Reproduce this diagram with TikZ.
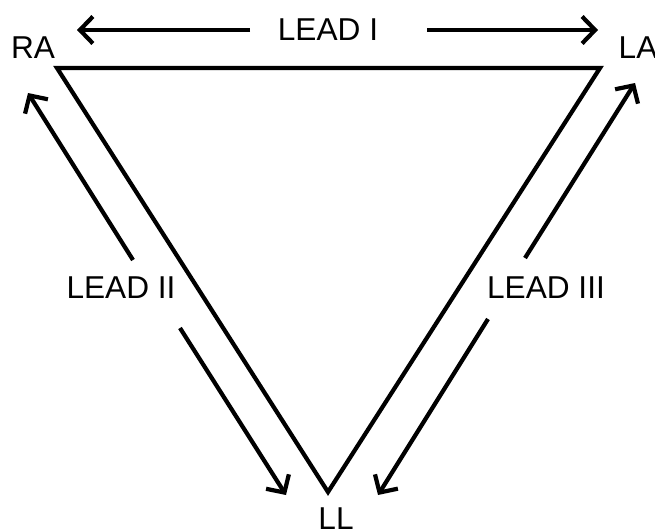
\documentclass[tikz,border=0pt]{standalone}
\usepackage{fontspec}
\setmainfont{Liberation Sans}
\usetikzlibrary{arrows.meta}
\tikzset{
  side/.style={line width=2.4pt, line join=miter},
  leadarr/.style={-{Straight Barb[length=2.6mm, width=5.4mm, line width=2.4pt]}, line width=2.4pt},
  lab/.style={font=\fontsize{18}{20}\selectfont, inner sep=0pt},
}

\begin{document}
\begin{tikzpicture}[x=0.02cm,y=-0.02cm]
\useasboundingbox (0,0) rectangle (655,531);

% ===================== electrodes and triangle ==============================
\node[lab] (RA) at (33,48)  {RA};
\node[lab] (LA) at (638,48) {LA};
\node[lab] (LL) at (336,519) {LL};
\coordinate (vRA) at (57,68);
\coordinate (vLA) at (600,68);
\coordinate (vLL) at (328,492);
\draw[side] (vRA) -- (vLA) -- (vLL) -- cycle;

% ===================== lead labels ==========================================
\node[lab] (leadI)   at (328,30)  {LEAD I};
\node[lab] (leadII)  at (121,288) {LEAD II};
\node[lab] (leadIII) at (546,288) {LEAD III};

% ===================== lead arrows ==========================================
\coordinate (aIl)   at (250,30);  \coordinate (hIl)   at (77,30);
\coordinate (aIr)   at (427,30);  \coordinate (hIr)   at (598,30);
\coordinate (aIIu)  at (133,260); \coordinate (hIIu)  at (28,93);
\coordinate (aIId)  at (180,328); \coordinate (hIId)  at (286,495);
\coordinate (aIIIu) at (525,258); \coordinate (hIIIu) at (635,83);
\coordinate (aIIId) at (488,319); \coordinate (hIIId) at (378,495);
\draw[leadarr] (aIl) -- (hIl);
\draw[leadarr] (aIr) -- (hIr);
\draw[leadarr] (aIIu) -- (hIIu);
\draw[leadarr] (aIId) -- (hIId);
\draw[leadarr] (aIIIu) -- (hIIIu);
\draw[leadarr] (aIIId) -- (hIIId);

\end{tikzpicture}
\end{document}
